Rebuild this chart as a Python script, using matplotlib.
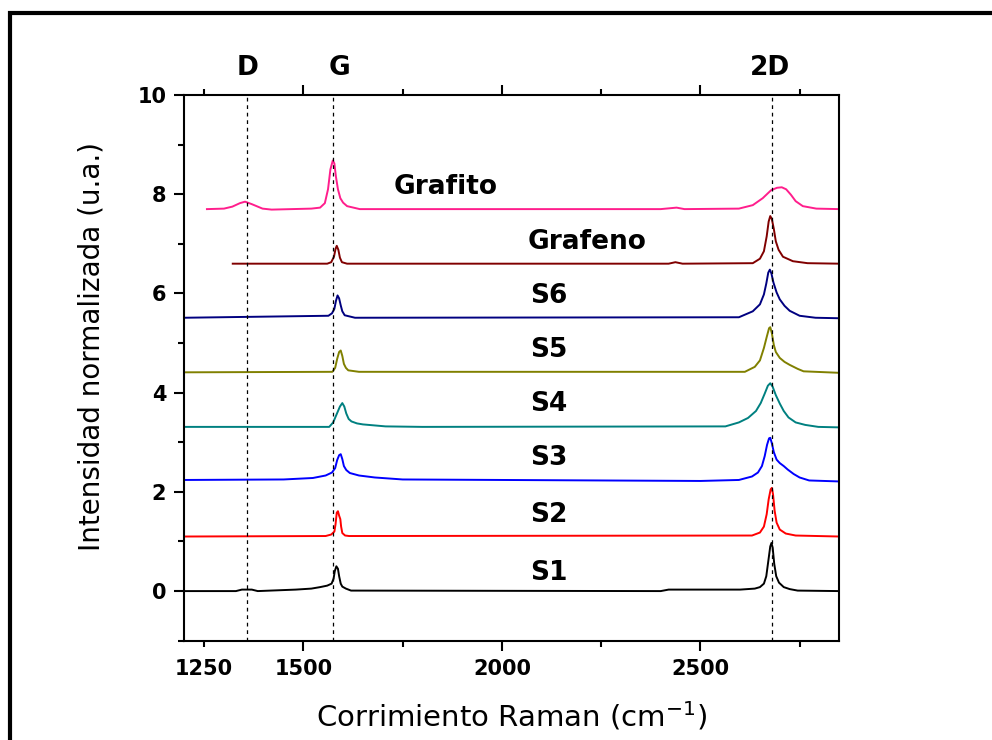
import matplotlib
matplotlib.use("Agg")
import matplotlib.pyplot as plt
from matplotlib.patches import Rectangle
from matplotlib.ticker import FixedLocator, FixedFormatter

plt.rcParams['font.family'] = ['DejaVu Sans']
plt.rcParams['mathtext.fontset'] = 'dejavusans'

# spectra (Raman shift, offset intensity)
s1_x = [1200, 1330, 1345, 1370, 1385, 1481, 1520, 1542, 1560, 1571, 1576, 1579, 1583, 1587,
        1590, 1594, 1598, 1607, 1620, 2400, 2420, 2600, 2637, 2650, 2660, 2666, 2671, 2676,
        2679, 2682, 2686, 2691, 2698, 2710, 2725, 2745, 2850]
s1_y = [0.00, 0.00, 0.03, 0.03, 0.00, 0.03, 0.05, 0.08, 0.11, 0.15, 0.25, 0.40, 0.50, 0.45,
        0.30, 0.15, 0.09, 0.05, 0.01, 0.00, 0.03, 0.03, 0.05, 0.08, 0.15, 0.30, 0.60, 0.90,
        0.97, 0.88, 0.55, 0.30, 0.17, 0.08, 0.04, 0.01, 0.00]

s2_x = [1200, 1556, 1570, 1578, 1581, 1584, 1587, 1590, 1593, 1595, 1598, 1605, 1615,
        2630, 2650, 2660, 2667, 2672, 2677, 2680, 2683, 2687, 2692, 2700, 2715, 2740, 2850]
s2_y = [1.10, 1.11, 1.14, 1.20, 1.35, 1.58, 1.61, 1.52, 1.45, 1.30, 1.17, 1.12, 1.11,
        1.12, 1.18, 1.30, 1.55, 1.85, 2.05, 2.08, 1.95, 1.62, 1.38, 1.24, 1.16, 1.12, 1.10]

s3_x = [1200, 1450, 1524, 1556, 1572, 1580, 1585, 1590, 1594, 1598, 1602, 1608, 1617, 1640,
        1680, 1750, 2500, 2597, 2630, 2645, 2655, 2662, 2668, 2673, 2676, 2680, 2685, 2692,
        2700, 2710, 2720, 2735, 2750, 2774, 2850]
s3_y = [2.24, 2.25, 2.28, 2.33, 2.39, 2.48, 2.64, 2.74, 2.76, 2.66, 2.52, 2.44, 2.38, 2.33,
        2.29, 2.25, 2.22, 2.24, 2.31, 2.39, 2.52, 2.72, 2.95, 3.08, 3.09, 2.98, 2.80, 2.65,
        2.58, 2.52, 2.45, 2.36, 2.29, 2.23, 2.21]

s4_x = [1200, 1565, 1575, 1584, 1592, 1598, 1603, 1608, 1614, 1621, 1635, 1650, 1707, 1800,
        2563, 2597, 2620, 2640, 2652, 2662, 2670, 2676, 2682, 2690, 2700, 2710, 2722, 2740,
        2764, 2797, 2850]
s4_y = [3.31, 3.31, 3.40, 3.57, 3.72, 3.79, 3.72, 3.58, 3.47, 3.42, 3.38, 3.36, 3.32, 3.31,
        3.32, 3.40, 3.49, 3.63, 3.79, 3.98, 4.14, 4.19, 4.12, 3.95, 3.78, 3.63, 3.50, 3.40,
        3.35, 3.31, 3.30]

s5_x = [1200, 1573, 1580, 1585, 1590, 1594, 1598, 1602, 1607, 1613, 1640,
        2612, 2637, 2650, 2660, 2667, 2673, 2676, 2680, 2685, 2690, 2700, 2712, 2725, 2745,
        2760, 2850]
s5_y = [4.41, 4.42, 4.50, 4.68, 4.82, 4.85, 4.74, 4.58, 4.50, 4.45, 4.42,
        4.42, 4.52, 4.65, 4.90, 5.12, 5.30, 5.32, 5.20, 4.96, 4.82, 4.70, 4.62, 4.56, 4.48,
        4.43, 4.40]

s6_x = [1200, 1563, 1572, 1578, 1582, 1586, 1590, 1594, 1598, 1604, 1630,
        2597, 2632, 2650, 2660, 2666, 2671, 2675, 2679, 2684, 2692, 2700, 2712, 2725, 2750,
        2790, 2850]
s6_y = [5.51, 5.55, 5.60, 5.69, 5.85, 5.96, 5.90, 5.76, 5.64, 5.56, 5.51,
        5.52, 5.64, 5.78, 5.98, 6.20, 6.42, 6.48, 6.40, 6.22, 6.02, 5.88, 5.75, 5.65, 5.55,
        5.51, 5.50]

grafeno_x = [1322, 1560, 1570, 1577, 1581, 1584, 1588, 1592, 1597, 1610, 2420, 2437, 2455,
             2632, 2650, 2660, 2667, 2672, 2676, 2680, 2685, 2690, 2697, 2708, 2733, 2770, 2850]
grafeno_y = [6.60, 6.60, 6.63, 6.74, 6.90, 6.96, 6.88, 6.72, 6.63, 6.60, 6.60, 6.63, 6.60,
             6.61, 6.70, 6.85, 7.15, 7.45, 7.56, 7.50, 7.30, 7.05, 6.88, 6.74, 6.65, 6.61, 6.60]

grafito_x = [1257, 1300, 1321, 1340, 1353, 1370, 1397, 1420, 1520, 1542, 1554, 1562, 1568,
             1574, 1578, 1582, 1587, 1593, 1600, 1610, 1642, 2400, 2440, 2460, 2597, 2632,
             2657, 2678, 2693, 2705, 2716, 2728, 2740, 2758, 2792, 2850]
grafito_y = [7.70, 7.71, 7.75, 7.82, 7.85, 7.80, 7.71, 7.69, 7.71, 7.73, 7.82, 8.10, 8.50,
             8.68, 8.62, 8.35, 8.10, 7.92, 7.83, 7.76, 7.70, 7.70, 7.73, 7.70, 7.71, 7.78,
             7.92, 8.08, 8.13, 8.14, 8.10, 7.99, 7.86, 7.76, 7.71, 7.70]

names = ['S1', 'S2', 'S3', 'S4', 'S5', 'S6', 'Grafeno', 'Grafito']
xs = [s1_x, s2_x, s3_x, s4_x, s5_x, s6_x, grafeno_x, grafito_x]
ys = [s1_y, s2_y, s3_y, s4_y, s5_y, s6_y, grafeno_y, grafito_y]
colors = ['black', '#FF0000', '#0000FF', '#008080', '#808000', '#000080', '#800000', '#FF1E8C']

# label positions (x, y) for each curve
label_x = [2118, 2118, 2118, 2118, 2118, 2118, 2215, 1857]
label_y = [0.37, 1.54, 2.69, 3.78, 4.86, 5.95, 7.04, 8.15]

# band positions
bands = ['D', 'G', '2D']
band_pos = [1357, 1575, 2680]
band_text_x = [1360, 1592, 2676]

fig = plt.figure(figsize=(9.92, 7.40), dpi=100)
ax = fig.add_axes([0.1858, 0.1342, 0.6603, 0.7374])

for x, y, c in zip(xs, ys, colors):
    ax.plot(x, y, color=c, lw=1.4)

for n, lx, ly in zip(names, label_x, label_y):
    ax.text(lx, ly, n, ha='center', va='center', fontsize=19, fontweight='bold')

for p in band_pos:
    ax.axvline(p, color='black', ls=(0, (3, 3)), lw=0.9)
for b, p in zip(bands, band_text_x):
    ax.text(p, 10.55, b, ha='center', va='center', fontsize=19, fontweight='bold',
            clip_on=False)

ax.set_xlim(1200, 2850)
ax.set_ylim(-1, 10)

ax.xaxis.set_major_locator(FixedLocator([1500, 2000, 2500]))
ax.xaxis.set_minor_locator(FixedLocator([1250, 1750, 2250, 2750]))
ax.xaxis.set_minor_formatter(FixedFormatter(['1250', '', '', '']))
ax.yaxis.set_major_locator(FixedLocator([0, 2, 4, 6, 8, 10]))
ax.yaxis.set_minor_locator(FixedLocator([-1, 1, 3, 5, 7, 9]))

ax.tick_params(which='both', direction='out', width=1.5, labelsize=15,
               top=True, right=False, labeltop=False)
ax.tick_params(which='major', length=7, pad=6)
ax.tick_params(which='minor', length=4, pad=9)
for lab in ax.get_xticklabels(which='both') + ax.get_yticklabels():
    lab.set_fontweight('bold')

for s in ax.spines.values():
    s.set_linewidth(1.5)

ax.set_xlabel(r'Corrimiento Raman (cm$^{-1}$)', fontsize=21, labelpad=15)
ax.set_ylabel('Intensidad normalizada (u.a.)', fontsize=20)
ax.yaxis.set_label_coords(-0.121, 0.54)

# outer frame
fig.add_artist(Rectangle((0.0105, -0.1), 1.2, 1.0824, transform=fig.transFigure,
                         fill=False, lw=3, edgecolor='black', clip_on=False))

fig.savefig('out.png', dpi=100)
